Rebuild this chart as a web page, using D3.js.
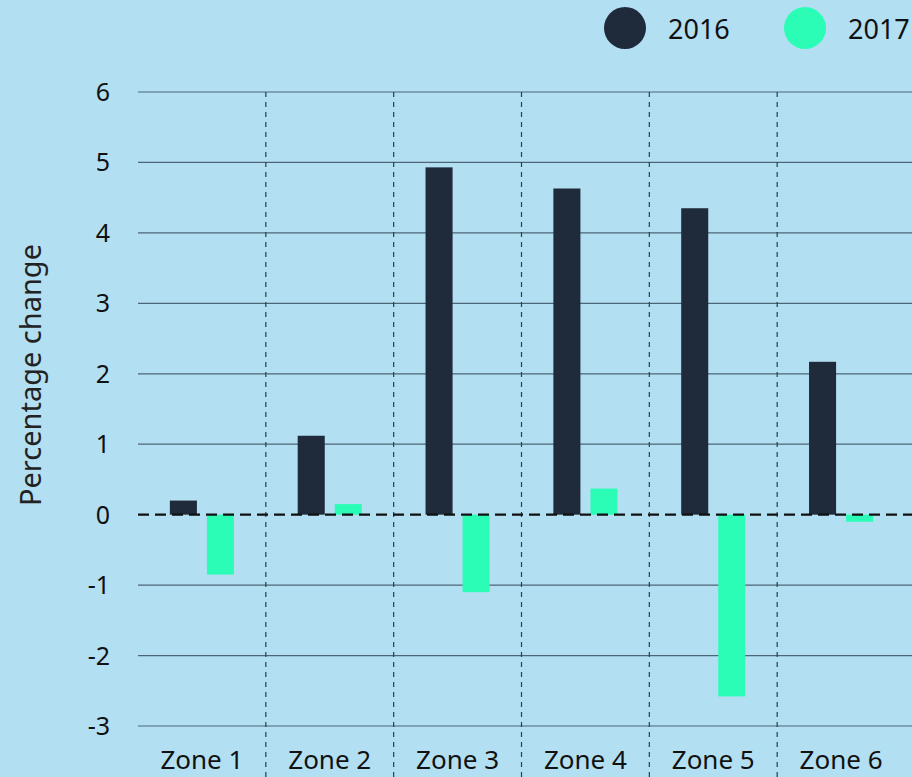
<!DOCTYPE html>
<html><head><meta charset="utf-8">
<script src="https://cdn.jsdelivr.net/npm/d3@7"></script>
<style>html,body{margin:0;padding:0;background:#b3dff2;}svg{display:block;}</style>
</head><body>
<script>
const zones = ["Zone 1","Zone 2","Zone 3","Zone 4","Zone 5","Zone 6"];
const series = ["2016","2017"];
const values2016 = [0.2, 1.12, 4.93, 4.63, 4.35, 2.17];
const values2017 = [-0.85, 0.15, -1.1, 0.37, -2.58, -0.1];
const yTicks = [6,5,4,3,2,1,0,-1,-2,-3];
const colors = ["#1f2a3a", "#2bfdb6"];

const W = 912, H = 777;
const font = "'Noto Sans', 'Open Sans', sans-serif";
const svg = d3.select("body").append("svg").attr("width", W).attr("height", H);
svg.append("rect").attr("width", W).attr("height", H).attr("fill", "#b3dff2");

const y = d3.scaleLinear().domain([-3, 6]).range([726, 92]);
const x = d3.scaleBand().domain(zones).range([138, 905]).padding(0);
const xs = d3.scaleBand().domain(series).range([0, x.bandwidth()]).paddingInner(0.27).paddingOuter(0.86);

// gridlines
svg.append("g").selectAll("line").data(yTicks.filter(d => d !== 0)).join("line")
  .attr("x1", 138).attr("x2", W).attr("y1", d => y(d)).attr("y2", d => y(d))
  .attr("stroke", "#4d6677").attr("stroke-width", 1.2);

// tick labels
svg.append("g").selectAll("text").data(yTicks).join("text")
  .attr("x", 110).attr("y", d => y(d)).attr("dy", "0.36em")
  .attr("text-anchor", "end").attr("font-family", font).attr("font-size", 25)
  .attr("fill", "#111").text(d => d);

// separators
svg.append("g").selectAll("line").data(zones.slice(1)).join("line")
  .attr("x1", d => x(d)).attr("x2", d => x(d)).attr("y1", 92).attr("y2", H)
  .attr("stroke", "#2c3e4c").attr("stroke-width", 1.2).attr("stroke-dasharray", "5,5");

// bars
const data = [];
zones.forEach((z, i) => {
  data.push({zone: z, s: "2016", v: values2016[i]});
  data.push({zone: z, s: "2017", v: values2017[i]});
});
svg.append("g").selectAll("rect").data(data).join("rect")
  .attr("x", d => x(d.zone) + xs(d.s))
  .attr("width", xs.bandwidth())
  .attr("y", d => y(Math.max(0, d.v)))
  .attr("height", d => Math.abs(y(d.v) - y(0)))
  .attr("fill", d => colors[series.indexOf(d.s)]);

// zero line
svg.append("line").attr("x1", 138).attr("x2", W).attr("y1", y(0)).attr("y2", y(0))
  .attr("stroke", "#111").attr("stroke-width", 2.2).attr("stroke-dasharray", "11,6");

// zone labels
svg.append("g").selectAll("text").data(zones).join("text")
  .attr("x", d => x(d) + x.bandwidth() / 2).attr("y", 769)
  .attr("text-anchor", "middle").attr("font-family", font).attr("font-size", 26)
  .attr("fill", "#111").text(d => d);

// y label
svg.append("text").attr("transform", "translate(41,375) rotate(-90)")
  .attr("text-anchor", "middle").attr("font-family", font).attr("font-size", 29)
  .attr("textLength", 262).attr("lengthAdjust", "spacingAndGlyphs")
  .attr("fill", "#222").text("Percentage change");

// legend
const legX = [625, 805];
const leg = svg.append("g").selectAll("g").data(series).join("g");
leg.append("circle").attr("cx", (d, i) => legX[i]).attr("cy", 28).attr("r", 21)
  .attr("fill", (d, i) => colors[i]);
leg.append("text").attr("x", (d, i) => legX[i] + 43).attr("y", 29).attr("dy", "0.36em")
  .attr("font-family", font).attr("font-size", 27).attr("fill", "#111").text(d => d);
</script>
</body></html>
